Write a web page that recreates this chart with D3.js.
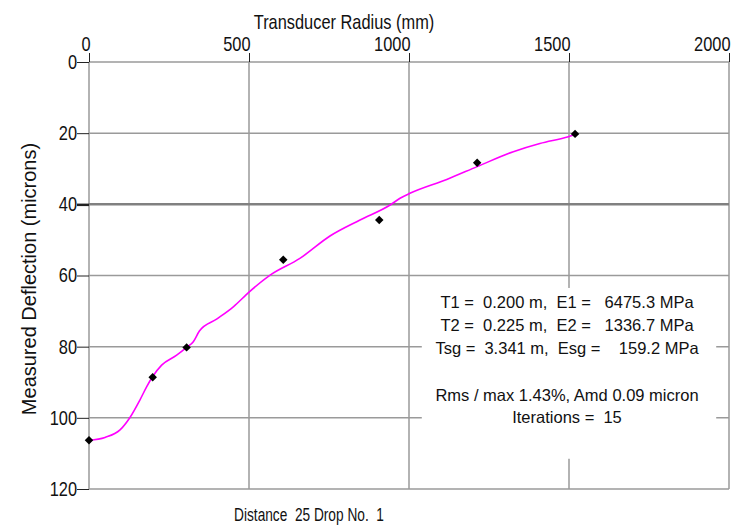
<!DOCTYPE html>
<html>
<head>
<meta charset="utf-8">
<script src="https://cdn.jsdelivr.net/npm/d3@7"></script>
<style>
  html, body { margin: 0; padding: 0; background: #fff; }
  svg { display: block; }
  text { white-space: pre; }
</style>
</head>
<body>
<script>
// Deflection basin: measured points and back-calculated fit
const radiusTicks = [0, 500, 1000, 1500, 2000];
const deflectionTicks = [0, 20, 40, 60, 80, 100, 120];

const sensorRadius = [0, 199, 305, 607, 907, 1213, 1519];
const measuredDeflection = [106.3, 88.6, 80.2, 55.6, 44.4, 28.3, 20.2];

const fitRadius = [0, 50, 97, 128, 159, 180, 199, 227, 274, 305, 326, 345, 400, 451, 501, 566, 659, 753, 847, 941, 972, 1003, 1118, 1213, 1326, 1409, 1498, 1519];
const fitDeflection = [106.3, 105.5, 103.4, 99.9, 95.0, 91.3, 88.4, 85.2, 82.4, 80.2, 78.6, 75.6, 72.2, 68.8, 64.6, 59.9, 55.2, 48.9, 44.4, 40.2, 38.3, 36.9, 33.0, 29.4, 25.2, 22.9, 21.0, 20.4];

const resultLines = [
  "T1 =  0.200 m,  E1 =   6475.3 MPa",
  "T2 =  0.225 m,  E2 =   1336.7 MPa",
  "Tsg =  3.341 m,  Esg =    159.2 MPa",
  "Rms / max 1.43%, Amd 0.09 micron",
  "Iterations =  15"
];

const W = 743, H = 527;
const font = "'Liberation Sans', Arial, sans-serif";
const squeeze = 0.82; // horizontal compression for the condensed axis lettering

const svg = d3.select("body").append("svg").attr("width", W).attr("height", H);

const x = d3.scaleLinear().domain([0, 2000]).range([89, 729]);
const y = d3.scaleLinear().domain([0, 120]).range([62, 489]);

const gridColor = "#9a9a9a";

// grid
const grid = svg.append("g");
grid.selectAll("line.v").data(radiusTicks).join("line")
  .attr("x1", d => x(d)).attr("x2", d => x(d))
  .attr("y1", y(0)).attr("y2", y(120))
  .attr("stroke", gridColor).attr("stroke-width", 1.5);
grid.selectAll("line.h").data(deflectionTicks).join("line")
  .attr("x1", x(0)).attr("x2", x(2000))
  .attr("y1", d => y(d)).attr("y2", d => y(d))
  .attr("stroke", d => d === 40 ? "#808080" : gridColor)
  .attr("stroke-width", d => d === 40 ? 2.5 : 1.5);

// top axis
const topAxis = svg.append("g")
  .attr("transform", `translate(0,${y(0)})`)
  .call(d3.axisTop(x).tickValues(radiusTicks).tickFormat(d3.format("d"))
    .tickSize(9).tickSizeOuter(0).tickPadding(2));
topAxis.select(".domain").remove();
topAxis.selectAll(".tick line").attr("stroke", "#222");
topAxis.selectAll(".tick text")
  .attr("text-anchor", "end").attr("x", 1 / squeeze)
  .attr("transform", `scale(${squeeze},1)`)
  .attr("font-family", font).attr("font-size", 20).attr("fill", "#111");

// left axis
const leftAxis = svg.append("g")
  .attr("transform", `translate(${x(0)},0)`)
  .call(d3.axisLeft(y).tickValues(deflectionTicks).tickFormat(d3.format("d"))
    .tickSize(12).tickSizeOuter(0).tickPadding(0));
leftAxis.select(".domain").remove();
leftAxis.selectAll(".tick line").attr("stroke", "#222")
  .attr("stroke-width", d => d === 40 ? 2.5 : 1);
leftAxis.selectAll(".tick text")
  .attr("x", -12 / squeeze)
  .attr("transform", `scale(${squeeze},1)`)
  .attr("font-family", font).attr("font-size", 20).attr("fill", "#111");

// fitted basin
const line = d3.line().x((d, i) => x(fitRadius[i])).y(d => y(d)).curve(d3.curveMonotoneX);
svg.append("path")
  .datum(fitDeflection)
  .attr("d", line)
  .attr("fill", "none")
  .attr("stroke", "#ff00ff")
  .attr("stroke-width", 1.6);

// measured points: small square-ish diamonds
const smallDiamond = {
  draw(ctx, size) {
    const r = Math.sqrt(size / 2);
    ctx.moveTo(0, -r);
    ctx.lineTo(r, 0);
    ctx.lineTo(0, r);
    ctx.lineTo(-r, 0);
    ctx.closePath();
  }
};
svg.append("g").selectAll("path").data(measuredDeflection).join("path")
  .attr("transform", (d, i) => `translate(${x(sensorRadius[i])},${y(d)})`)
  .attr("d", d3.symbol(smallDiamond, 36))
  .attr("fill", "#000");

// results panel
const panel = { x0: 1040, x1: 1960, y0: 63.5, y1: 111.5 };
svg.append("rect")
  .attr("x", x(panel.x0)).attr("y", y(panel.y0))
  .attr("width", x(panel.x1) - x(panel.x0)).attr("height", y(panel.y1) - y(panel.y0))
  .attr("fill", "#fff");
const lineY = [302, 325, 348, 395, 417];
svg.append("g").selectAll("text").data(resultLines).join("text")
  .attr("x", 567)
  .attr("y", (d, i) => lineY[i])
  .attr("dy", "0.35em")
  .attr("text-anchor", "middle")
  .attr("font-family", font).attr("font-size", 16.5).attr("fill", "#111")
  .text(d => d);

// titles
svg.append("text")
  .attr("x", 344 / squeeze).attr("y", 29)
  .attr("transform", `scale(${squeeze},1)`)
  .attr("text-anchor", "middle")
  .attr("font-family", font).attr("font-size", 20).attr("fill", "#111")
  .text("Transducer Radius (mm)");

svg.append("text")
  .attr("transform", "translate(36,279) rotate(-90)")
  .attr("text-anchor", "middle")
  .attr("font-family", font).attr("font-size", 20).attr("fill", "#111")
  .text("Measured Deflection (microns)");

const footSqueeze = 0.74;
svg.append("text")
  .attr("x", 309 / footSqueeze).attr("y", 521)
  .attr("transform", `scale(${footSqueeze},1)`)
  .attr("text-anchor", "middle")
  .attr("font-family", font).attr("font-size", 18.5).attr("fill", "#111")
  .text("Distance  25 Drop No.  1");
</script>
</body>
</html>
